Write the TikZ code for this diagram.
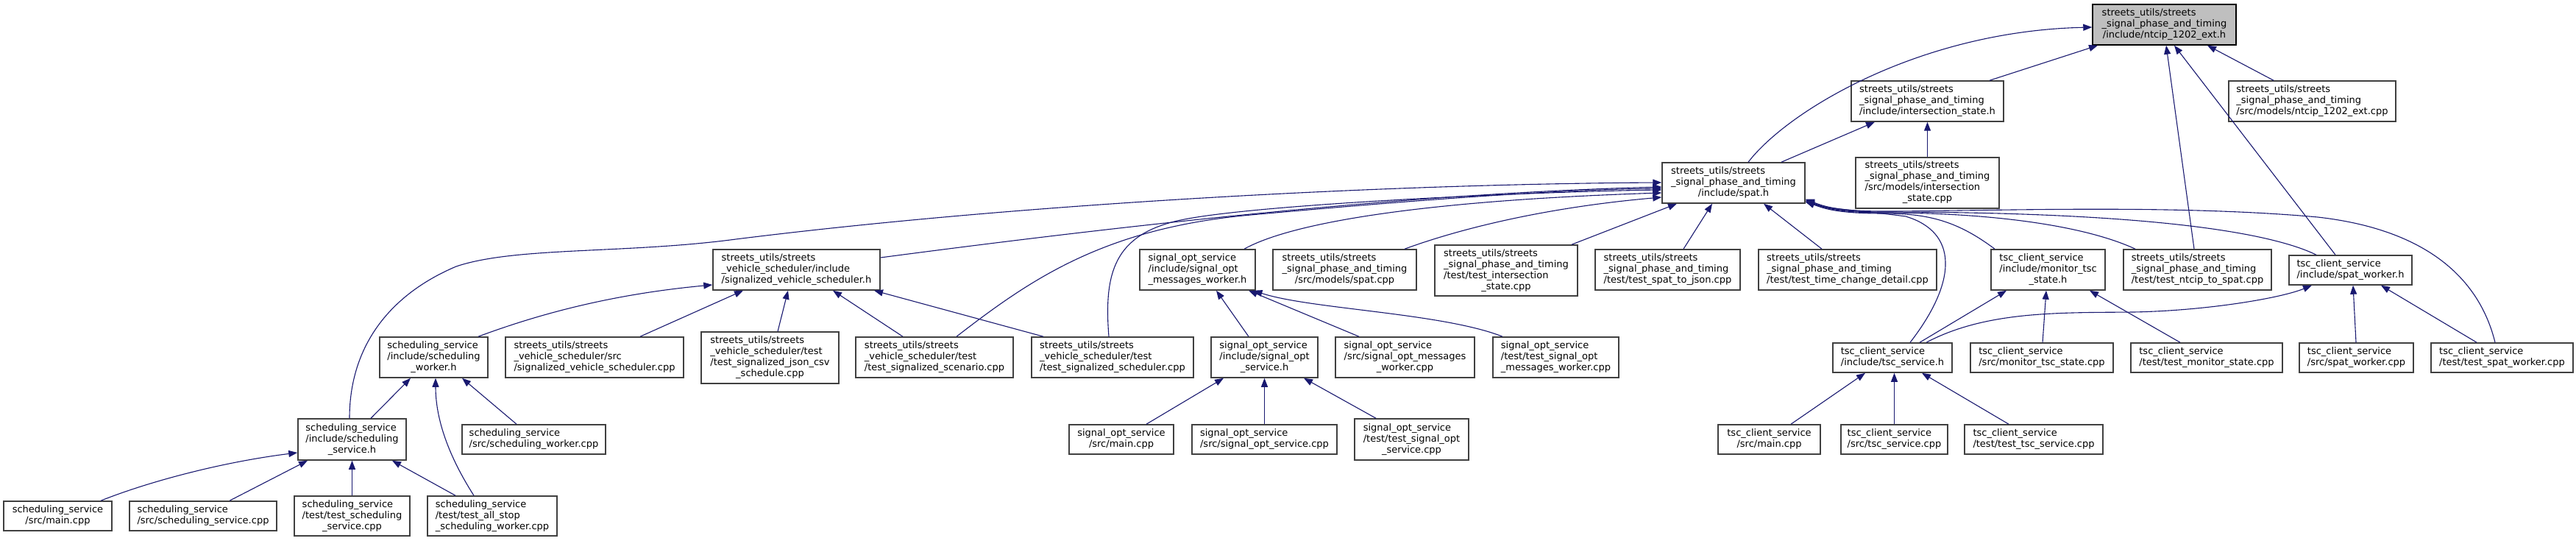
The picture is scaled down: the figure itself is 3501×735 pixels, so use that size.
\documentclass[tikz,border=0pt]{standalone}
\usepackage{fontspec}
\setmainfont{DejaVu Sans}
\usetikzlibrary{arrows.meta,calc}
\definecolor{mbl}{HTML}{191970}
\definecolor{nodeborder}{HTML}{404040}
\newcommand{\nl}[2]{\begin{tabular}{@{}l@{}}#1\\\multicolumn{1}{@{}c@{}}{#2}\end{tabular}}
\tikzset{
  box/.style={draw=nodeborder, fill=white, line width=1.5pt, inner sep=0pt, font=\fontsize{13}{15}\selectfont, text=black},
  cur/.style={box, draw=black, fill=black!25},
  edge/.style={draw=mbl, line width=1.1pt, -{Triangle[length=12pt,width=9pt]}},
}
\begin{document}
\begin{tikzpicture}[x=1pt,y=-1pt]
\fill[white] (0,0) rectangle (3501,735);
\useasboundingbox (0,0) rectangle (3501,735);
% rank 0
\node[cur, minimum width=195pt, minimum height=55pt] (ntciph) at (2941.5,33.5) {\nl{streets\_utils/streets\\\_signal\_phase\_and\_timing}{/include/ntcip\_1202\_ext.h}};
% rank 1
\node[box, minimum width=207pt, minimum height=55pt] (isecth) at (2619.5,137.5) {\nl{streets\_utils/streets\\\_signal\_phase\_and\_timing}{/include/intersection\_state.h}};
\node[box, minimum width=227pt, minimum height=55pt] (ntcipcpp) at (3142.5,137.5) {\nl{streets\_utils/streets\\\_signal\_phase\_and\_timing}{/src/models/ntcip\_1202\_ext.cpp}};
% rank 2
\node[box, minimum width=194pt, minimum height=55pt] (spath) at (2356,248.5) {\nl{streets\_utils/streets\\\_signal\_phase\_and\_timing}{/include/spat.h}};
\node[box, minimum width=195pt, minimum height=69pt] (iseccpp) at (2619.5,248.5) {\nl{streets\_utils/streets\\\_signal\_phase\_and\_timing\\/src/models/intersection}{\_state.cpp}};
% rank 3
\node[box, minimum width=227pt, minimum height=55pt] (svsh) at (1082.5,366.5) {\nl{streets\_utils/streets\\\_vehicle\_scheduler/include}{/signalized\_vehicle\_scheduler.h}};
\node[box, minimum width=157pt, minimum height=55pt] (msgwh) at (1627.5,366.5) {\nl{signal\_opt\_service\\/include/signal\_opt}{\_messages\_worker.h}};
\node[box, minimum width=195pt, minimum height=55pt] (spatcpp) at (1827.5,366.5) {\nl{streets\_utils/streets\\\_signal\_phase\_and\_timing}{/src/models/spat.cpp}};
\node[box, minimum width=194pt, minimum height=69pt] (tisec) at (2047,367.5) {\nl{streets\_utils/streets\\\_signal\_phase\_and\_timing\\/test/test\_intersection}{\_state.cpp}};
\node[box, minimum width=197pt, minimum height=55pt] (tjson) at (2266.5,366.5) {\nl{streets\_utils/streets\\\_signal\_phase\_and\_timing}{/test/test\_spat\_to\_json.cpp}};
\node[box, minimum width=242pt, minimum height=55pt] (ttime) at (2511,366.5) {\nl{streets\_utils/streets\\\_signal\_phase\_and\_timing}{/test/test\_time\_change\_detail.cpp}};
\node[box, minimum width=155pt, minimum height=55pt] (monh) at (2783.5,366.5) {\nl{tsc\_client\_service\\/include/monitor\_tsc}{\_state.h}};
\node[box, minimum width=201pt, minimum height=55pt] (tntcip) at (2986.5,366.5) {\nl{streets\_utils/streets\\\_signal\_phase\_and\_timing}{/test/test\_ntcip\_to\_spat.cpp}};
\node[box, minimum width=167pt, minimum height=40pt] (spatwh) at (3194.5,367) {\nl{tsc\_client\_service}{/include/spat\_worker.h}};
% rank 4
\node[box, minimum width=147pt, minimum height=55pt] (schwh) at (589.5,485.5) {\nl{scheduling\_service\\/include/scheduling}{\_worker.h}};
\node[box, minimum width=242pt, minimum height=55pt] (svscpp) at (808,485.5) {\nl{streets\_utils/streets\\\_vehicle\_scheduler/src}{/signalized\_vehicle\_scheduler.cpp}};
\node[box, minimum width=187pt, minimum height=70pt] (tjcsv) at (1046.5,486) {\nl{streets\_utils/streets\\\_vehicle\_scheduler/test\\/test\_signalized\_json\_csv}{\_schedule.cpp}};
\node[box, minimum width=214pt, minimum height=55pt] (tscen) at (1270,485.5) {\nl{streets\_utils/streets\\\_vehicle\_scheduler/test}{/test\_signalized\_scenario.cpp}};
\node[box, minimum width=220pt, minimum height=55pt] (tsched) at (1512,485.5) {\nl{streets\_utils/streets\\\_vehicle\_scheduler/test}{/test\_signalized\_scheduler.cpp}};
\node[box, minimum width=145pt, minimum height=55pt] (soh) at (1718.5,485.5) {\nl{signal\_opt\_service\\/include/signal\_opt}{\_service.h}};
\node[box, minimum width=189pt, minimum height=55pt] (msgwcpp) at (1909.5,485.5) {\nl{signal\_opt\_service\\/src/signal\_opt\_messages}{\_worker.cpp}};
\node[box, minimum width=171pt, minimum height=55pt] (tmsgw) at (2114.5,485.5) {\nl{signal\_opt\_service\\/test/test\_signal\_opt}{\_messages\_worker.cpp}};
\node[box, minimum width=162pt, minimum height=40pt] (tsch) at (2572,486) {\nl{tsc\_client\_service}{/include/tsc\_service.h}};
\node[box, minimum width=194pt, minimum height=40pt] (moncpp) at (2775,486) {\nl{tsc\_client\_service}{/src/monitor\_tsc\_state.cpp}};
\node[box, minimum width=206pt, minimum height=40pt] (tmon) at (2999,486) {\nl{tsc\_client\_service}{/test/test\_monitor\_state.cpp}};
\node[box, minimum width=155pt, minimum height=40pt] (spatwcpp) at (3202.5,486) {\nl{tsc\_client\_service}{/src/spat\_worker.cpp}};
\node[box, minimum width=193pt, minimum height=40pt] (tspatw) at (3400.5,486) {\nl{tsc\_client\_service}{/test/test\_spat\_worker.cpp}};
% rank 5
\node[box, minimum width=147pt, minimum height=56pt] (schsh) at (478.5,597) {\nl{scheduling\_service\\/include/scheduling}{\_service.h}};
\node[box, minimum width=195pt, minimum height=40pt] (schwcpp) at (725.5,597) {\nl{scheduling\_service}{/src/scheduling\_worker.cpp}};
\node[box, minimum width=142pt, minimum height=40pt] (somain) at (1524,597) {\nl{signal\_opt\_service}{/src/main.cpp}};
\node[box, minimum width=197pt, minimum height=40pt] (socpp) at (1718.5,597) {\nl{signal\_opt\_service}{/src/signal\_opt\_service.cpp}};
\node[box, minimum width=155pt, minimum height=56pt] (tso) at (1918.5,597) {\nl{signal\_opt\_service\\/test/test\_signal\_opt}{\_service.cpp}};
\node[box, minimum width=139pt, minimum height=40pt] (tscmain) at (2404.5,597) {\nl{tsc\_client\_service}{/src/main.cpp}};
\node[box, minimum width=145pt, minimum height=40pt] (tsccpp) at (2574.5,597) {\nl{tsc\_client\_service}{/src/tsc\_service.cpp}};
\node[box, minimum width=188pt, minimum height=40pt] (ttsc) at (2764,597) {\nl{tsc\_client\_service}{/test/test\_tsc\_service.cpp}};
% rank 6
\node[box, minimum width=147pt, minimum height=40pt] (schmain) at (78.5,701) {\nl{scheduling\_service}{/src/main.cpp}};
\node[box, minimum width=200pt, minimum height=40pt] (schcpp) at (276,701) {\nl{scheduling\_service}{/src/scheduling\_service.cpp}};
\node[box, minimum width=157pt, minimum height=54pt] (tschs) at (478.5,701) {\nl{scheduling\_service\\/test/test\_scheduling}{\_service.cpp}};
\node[box, minimum width=176pt, minimum height=54pt] (tallstop) at (669,701) {\nl{scheduling\_service\\/test/test\_all\_stop}{\_scheduling\_worker.cpp}};
% edges
\draw[edge] ([xshift=84.5pt]isecth.north) -- ([xshift=-90.5pt]ntciph.south);
\draw[edge] ([xshift=20pt]spath.north) .. controls (2430,150) and (2610,42) .. ([yshift=-3.5pt]ntciph.west);
\draw[edge] ([xshift=-52.5pt]ntcipcpp.north) -- ([xshift=58.5pt]ntciph.south);
\draw[edge] ([xshift=-4.5pt]tntcip.north) -- ([xshift=2.5pt]ntciph.south);
\draw[edge] ([xshift=-20.5pt]spatwh.north) -- ([xshift=13.5pt]ntciph.south);
\draw[edge] ([xshift=65pt]spath.north) -- ([xshift=-71.5pt]isecth.south);
\draw[edge] (iseccpp.north) -- (isecth.south);
\draw[edge] ([xshift=-3.5pt]schsh.north) .. controls (475,470) and (530,400) .. (620,362) .. controls (700,335) and (850,345) .. (1000,325) .. controls (1400,275) and (1900,250) .. ([yshift=0.5pt]spath.west);
\draw[edge] ([yshift=16.5pt]svsh.east) .. controls (1500,310) and (1900,263) .. ([yshift=-5.5pt]spath.west);
\draw[edge] ([xshift=30pt]tscen.north) .. controls (1400,380) and (1500,310) .. (1700,292) .. controls (1900,274) and (2100,258) .. ([yshift=-7.5pt]spath.west);
\draw[edge] ([xshift=-5pt]tsched.north) .. controls (1500,370) and (1515,320) .. (1600,300) .. controls (1700,277) and (2100,260) .. ([yshift=-9.5pt]spath.west);
\draw[edge] ([xshift=60.5pt]schwh.north) .. controls (750,420) and (850,398) .. ([yshift=-20.5pt]svsh.west);
\draw[edge] ([xshift=62pt]svscpp.north) -- ([xshift=-72.5pt]svsh.south);
\draw[edge] ([xshift=10.5pt]tjcsv.north) -- ([xshift=-11.5pt]svsh.south);
\draw[edge] ([xshift=-43pt]tscen.north) -- ([xshift=49.5pt]svsh.south);
\draw[edge] ([xshift=-94pt]tsched.north) -- ([xshift=105.5pt]svsh.south);
\draw[edge] ([xshift=25.5pt]schsh.north) -- ([xshift=-31.5pt]schwh.south);
\draw[edge] ([xshift=-23.5pt]schwcpp.north) -- ([xshift=38.5pt]schwh.south);
\draw[edge] ([xshift=-25pt]tallstop.north) .. controls (610,620) and (592,570) .. ([xshift=2.5pt]schwh.south);
\draw[edge] ([xshift=-50pt]tallstop.north) -- ([xshift=54.5pt]schsh.south);
\draw[edge] ([xshift=58.5pt]schmain.north) .. controls (200,655) and (300,628) .. ([yshift=-18pt]schsh.west);
\draw[edge] ([xshift=36pt]schcpp.north) -- ([xshift=-60.5pt]schsh.south);
\draw[edge] (tschs.north) -- (schsh.south);
\draw[edge] ([xshift=63.5pt]msgwh.north) .. controls (1760,300) and (1950,272) .. ([yshift=-13.5pt]spath.west);
\draw[edge] ([xshift=81.5pt]spatcpp.north) .. controls (2000,305) and (2120,280) .. ([yshift=-19.5pt]spath.west);
\draw[edge] ([xshift=89pt]tisec.north) -- ([xshift=-77pt]spath.south);
\draw[edge] ([xshift=21.5pt]tjson.north) -- ([xshift=-29pt]spath.south);
\draw[edge] ([xshift=-35pt]ttime.north) -- ([xshift=41pt]spath.south);
\draw[edge] ([xshift=-9.5pt]tspatw.north) .. controls (3370,380) and (3300,312) .. (3150,295) .. controls (2950,277) and (2700,287) .. (2560,287) .. controls (2500,287) and (2480,281) .. ([yshift=-22pt]spath.east);
\draw[edge] ([xshift=-46.5pt]spatwh.north) .. controls (3080,313) and (2900,288) .. (2560,288) .. controls (2500,288) and (2480,282) .. ([yshift=-23pt]spath.east);
\draw[edge] ([xshift=-84.5pt]tntcip.north) .. controls (2830,305) and (2700,289) .. (2560,289) .. controls (2500,289) and (2480,283) .. ([yshift=-24pt]spath.east);
\draw[edge] ([xshift=-72.5pt]monh.north) .. controls (2660,300) and (2620,290) .. (2560,290) .. controls (2500,290) and (2480,284) .. ([yshift=-25pt]spath.east);
\draw[edge] ([xshift=24pt]tsch.north) .. controls (2662,380) and (2660,315) .. (2590,294) .. controls (2530,286) and (2485,284) .. ([yshift=-26pt]spath.east);
\draw[edge] ([xshift=37pt]tsch.north) -- ([xshift=-56.5pt]monh.south);
\draw[edge] ([xshift=46pt]tsch.north) .. controls (2700,422) and (2800,425) .. (2900,424) .. controls (3000,422) and (3100,405) .. ([xshift=-52.5pt]spatwh.south);
\draw[edge] ([xshift=1pt]moncpp.north) -- ([xshift=-2.5pt]monh.south);
\draw[edge] ([xshift=-36pt]tmon.north) -- ([xshift=56.5pt]monh.south);
\draw[edge] ([xshift=-0.5pt]spatwcpp.north) -- ([xshift=3.5pt]spatwh.south);
\draw[edge] ([xshift=-34.5pt]tspatw.north) -- ([xshift=41.5pt]spatwh.south);
\draw[edge] ([xshift=29.5pt]tscmain.north) -- ([xshift=-37pt]tsch.south);
\draw[edge] (tsccpp.north) -- (tsccpp.north |- tsch.south);
\draw[edge] ([xshift=-34pt]ttsc.north) -- ([xshift=40pt]tsch.south);
\draw[edge] ([xshift=-21.5pt]soh.north) -- ([xshift=25.5pt]msgwh.south);
\draw[edge] ([xshift=-62.5pt]msgwcpp.north) -- ([xshift=69.5pt]msgwh.south);
\draw[edge] ([xshift=-72.5pt]tmsgw.north) .. controls (1960,425) and (1780,420) .. ([xshift=76pt]msgwh.south);
\draw[edge] ([xshift=34pt]somain.north) -- ([xshift=-55.5pt]soh.south);
\draw[edge] (socpp.north) -- (soh.south);
\draw[edge] ([xshift=-48.5pt]tso.north) -- ([xshift=53.5pt]soh.south);
\end{tikzpicture}
\end{document}
